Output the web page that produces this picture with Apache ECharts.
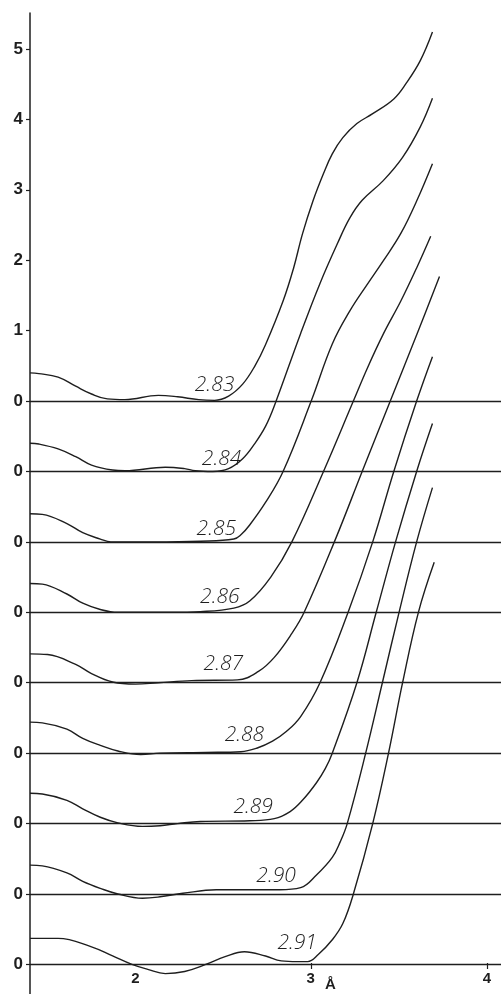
<!DOCTYPE html>
<html>
<head>
<meta charset="utf-8">
<script src="https://cdn.jsdelivr.net/npm/echarts@6/dist/echarts.min.js"></script>
<style>
  html, body { margin: 0; padding: 0; background: #fff; }
  #chart { width: 501px; height: 994px; }
</style>
</head>
<body>
<div id="chart"></div>
<script>
// Radial curves, one per parameter value; each is stacked one unit below the previous one.
const curveNames = ['2.83', '2.84', '2.85', '2.86', '2.87', '2.88', '2.89', '2.90', '2.91'];

// [r (Å), value above the curve's own baseline]
const r283 = [[1.40,0.40],[1.45,0.39],[1.56,0.34],[1.66,0.21],[1.75,0.10],[1.84,0.03],[1.94,0.02],[2.13,0.08],[2.24,0.06],[2.36,0.02],[2.45,0.01],[2.53,0.07],[2.61,0.24],[2.68,0.50],[2.74,0.80],[2.84,1.42],[2.90,1.89],[2.95,2.37],[3.01,2.84],[3.07,3.23],[3.12,3.51],[3.18,3.74],[3.26,3.94],[3.35,4.08],[3.47,4.29],[3.54,4.51],[3.62,4.83],[3.69,5.24]];
const r284 = [[1.40,0.40],[1.45,0.39],[1.56,0.32],[1.66,0.21],[1.75,0.09],[1.87,0.02],[1.94,0.01],[2.17,0.06],[2.28,0.04],[2.34,0.01],[2.44,0.00],[2.53,0.04],[2.61,0.18],[2.68,0.40],[2.74,0.64],[2.79,0.93],[2.94,1.96],[3.05,2.67],[3.15,3.24],[3.22,3.60],[3.29,3.85],[3.41,4.13],[3.52,4.46],[3.62,4.89],[3.69,5.30]];
const r285 = [[1.40,0.40],[1.47,0.39],[1.61,0.26],[1.70,0.13],[1.80,0.04],[1.86,0.00],[2.10,0.00],[2.37,0.01],[2.56,0.04],[2.60,0.10],[2.65,0.24],[2.74,0.56],[2.84,1.00],[3.00,2.00],[3.12,2.81],[3.22,3.28],[3.32,3.66],[3.41,3.99],[3.51,4.38],[3.60,4.84],[3.69,5.37]];
const r286 = [[1.40,0.41],[1.47,0.40],[1.61,0.26],[1.70,0.13],[1.80,0.04],[1.90,0.00],[2.20,0.00],[2.37,0.01],[2.56,0.06],[2.65,0.16],[2.77,0.50],[2.89,1.00],[3.07,2.00],[3.24,3.00],[3.32,3.47],[3.41,3.95],[3.51,4.42],[3.60,4.89],[3.68,5.34]];
const r287 = [[1.40,0.41],[1.50,0.40],[1.66,0.26],[1.75,0.13],[1.87,0.01],[2.00,-0.02],[2.13,0.00],[2.32,0.03],[2.58,0.04],[2.70,0.16],[2.79,0.36],[2.89,0.70],[2.96,1.00],[3.14,2.05],[3.29,3.00],[3.45,4.00],[3.61,5.00],[3.73,5.77]];
const r288 = [[1.40,0.44],[1.47,0.43],[1.61,0.34],[1.70,0.21],[1.80,0.11],[1.90,0.03],[2.03,-0.02],[2.14,0.00],[2.40,0.01],[2.60,0.02],[2.69,0.07],[2.78,0.17],[2.86,0.31],[2.94,0.52],[3.05,1.00],[3.21,2.00],[3.35,3.00],[3.47,4.00],[3.60,5.00],[3.69,5.63]];
const r289 = [[1.40,0.43],[1.47,0.42],[1.61,0.33],[1.70,0.21],[1.80,0.09],[1.90,0.01],[2.04,-0.04],[2.14,-0.03],[2.24,0.00],[2.37,0.03],[2.65,0.04],[2.79,0.07],[2.88,0.17],[2.95,0.33],[3.03,0.58],[3.08,0.78],[3.12,1.00],[3.26,2.00],[3.37,3.00],[3.48,4.00],[3.60,5.00],[3.69,5.68]];
const r290 = [[1.40,0.41],[1.47,0.40],[1.61,0.30],[1.70,0.18],[1.80,0.08],[1.90,0.00],[2.04,-0.06],[2.14,-0.04],[2.27,0.01],[2.46,0.06],[2.65,0.06],[2.82,0.06],[2.94,0.09],[3.03,0.27],[3.12,0.52],[3.165,0.74],[3.205,1.00],[3.31,2.00],[3.405,3.00],[3.50,4.00],[3.60,5.00],[3.69,5.77]];
const r291 = [[1.40,0.37],[1.56,0.37],[1.75,0.25],[1.87,0.12],[1.98,0.00],[2.07,-0.07],[2.17,-0.13],[2.28,-0.10],[2.40,0.00],[2.51,0.11],[2.62,0.18],[2.74,0.12],[2.83,0.05],[2.92,0.04],[2.98,0.04],[3.04,0.14],[3.12,0.35],[3.18,0.58],[3.24,1.00],[3.35,2.00],[3.44,3.00],[3.52,4.00],[3.61,5.00],[3.70,5.71]];
const curves = [r283, r284, r285, r286, r287, r288, r289, r290, r291];

// Where each curve's name is written: [r (Å), height above its baseline]
const nameSpots = [[2.45,0.23],[2.49,0.17],[2.46,0.18],[2.48,0.21],[2.50,0.26],[2.62,0.26],[2.67,0.24],[2.80,0.26],[2.92,0.31]];

// Axis ticks
const yTickValues = [5, 4, 3, 2, 1, 0, -1, -2, -3, -4, -5, -6, -7, -8];
const xTickValues = [2, 3, 4];

const ink = '#1e1e1e';

const series = curves.map((pts, k) => ({
  type: 'line',
  name: curveNames[k],
  data: pts.map(p => [p[0], p[1] - k]),
  smooth: 0.4,
  showSymbol: false,
  symbol: 'none',
  silent: true,
  lineStyle: { color: ink, width: 1.4 },
  markLine: {
    silent: true,
    symbol: 'none',
    label: { show: false },
    lineStyle: { color: ink, width: 1.3, type: 'solid' },
    data: [{ yAxis: -k }]
  },
  markPoint: {
    silent: true,
    symbol: 'circle',
    symbolSize: 0,
    label: {
      show: true,
      position: 'inside',
      formatter: curveNames[k],
      color: ink,
      fontSize: 21,
      fontFamily: 'Open Sans',
      fontStyle: 'italic',
      fontWeight: 300
    },
    data: [{ coord: [nameSpots[k][0], nameSpots[k][1] - k] }]
  }
}));

const chart = echarts.init(document.getElementById('chart'), null, { renderer: 'canvas' });
chart.setOption({
  animation: false,
  backgroundColor: '#ffffff',
  grid: { left: 30, right: 0, top: 13, bottom: 0, containLabel: false },
  xAxis: {
    type: 'value',
    min: 1.4,
    max: 4.08,
    offset: -31,
    axisLine: { show: false, onZero: false },
    splitLine: { show: false },
    axisTick: { show: true, customValues: [3, 4], length: 6, lineStyle: { color: ink, width: 1.2 } },
    axisLabel: {
      customValues: xTickValues,
      margin: 8,
      color: ink,
      fontFamily: 'Liberation Sans',
      fontWeight: 'bold',
      fontSize: 15,
      formatter: v => v === 3 ? '{pad|}{n|3}{u|Å}' : '{n|' + v + '}',
      rich: {
        n: { fontFamily: 'Liberation Sans', fontWeight: 'bold', fontSize: 15, color: ink, padding: [0, 0, 6, 0] },
        u: { fontFamily: 'Liberation Sans', fontWeight: 'bold', fontSize: 15, color: ink, padding: [6, 0, 0, 10] },
        pad: { width: 20 }
      }
    }
  },
  yAxis: {
    type: 'value',
    min: -8.42,
    max: 5.51,
    axisLine: { show: true, lineStyle: { color: ink, width: 1.5 } },
    splitLine: { show: false },
    axisTick: { show: true, customValues: yTickValues, length: 4, lineStyle: { color: ink, width: 1.2 } },
    axisLabel: {
      customValues: yTickValues,
      margin: 7,
      color: ink,
      fontFamily: 'Liberation Sans',
      fontWeight: 'bold',
      fontSize: 17,
      formatter: v => v < 0 ? '0' : String(v)
    }
  },
  series: series
});
</script>
</body>
</html>
